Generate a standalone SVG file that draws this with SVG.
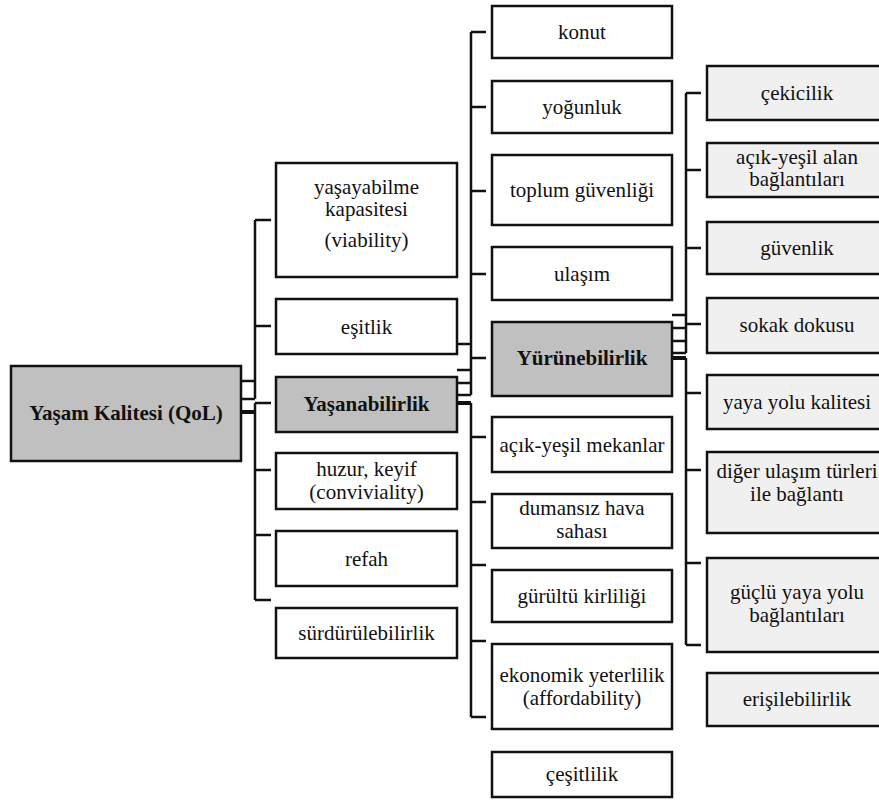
<svg xmlns="http://www.w3.org/2000/svg" width="879" height="800" viewBox="0 0 879 800">
<style>
.b{fill:#ffffff;stroke:#111;stroke-width:2.5}
.g{fill:#c0c0c0;stroke:#111;stroke-width:2.5}
.l{fill:#f0f0f0;stroke:#111;stroke-width:2.5}
text{font-family:'Liberation Serif','Times New Roman',Times,serif;font-size:21px;fill:#111;text-anchor:middle}
.bt{font-weight:bold}
.c{fill:none;stroke:#111;stroke-width:2.5}
.t{fill:none;stroke:#111;stroke-width:4}
</style>
<rect width="879" height="800" fill="#ffffff"/>
<g id="connectors">
<path class="c" d="M241,381H255M241,399H255M255,220V399M255,220H271M255,326H271"/>
<path class="t" d="M241,412H255"/>
<path class="c" d="M255,403V600M255,403H271M255,470H271M255,535H271M255,600H271"/>
<path class="c" d="M471,32V395M471,32H486M471,107H486M471,191H486M471,274H486M471,358H486M457,344H471M457,370H471M457,383H471M457,395H471"/>
<path class="t" d="M457,403H471"/>
<path class="c" d="M471,403V717M471,437H486M471,502H486M471,565H486M471,641H486M471,717H486"/>
<path class="c" d="M686,93V353M686,93H701M686,170H701M686,248H701M686,324H701M672,315H686M672,328H686M672,341H686M672,353H686"/>
<path class="t" d="M672,358H686"/>
<path class="c" d="M686,358V645M686,393H701M686,470H701M686,563H701M686,645H701"/>
</g>
<g font-family="Liberation Serif, Times New Roman, serif">
<g id="qol"><rect class="g" x="11" y="366" width="230" height="95"/><text class="bt" x="126" y="420">Yaşam Kalitesi (QoL)</text></g>
<g id="yasayabilme"><rect class="b" x="276" y="163" width="181" height="114"/><text x="366.5" y="194">yaşayabilme</text><text x="366.5" y="216">kapasitesi</text><text x="366.5" y="247">(viability)</text></g>
<g id="esitlik"><rect class="b" x="276" y="299" width="181" height="55"/><text x="366.5" y="333.5">eşitlik</text></g>
<g id="yasanabilirlik"><rect class="g" x="276" y="377" width="181" height="55"/><text class="bt" x="366.5" y="410.5">Yaşanabilirlik</text></g>
<g id="huzur"><rect class="b" x="276" y="453" width="181" height="56"/><text x="366.5" y="476">huzur, keyif</text><text x="366.5" y="499">(conviviality)</text></g>
<g id="refah"><rect class="b" x="276" y="531" width="181" height="55"/><text x="366.5" y="565.5">refah</text></g>
<g id="surdurulebilirlik"><rect class="b" x="276" y="608" width="181" height="50"/><text x="366.5" y="640">sürdürülebilirlik</text></g>
<g id="konut"><rect class="b" x="492" y="6" width="180" height="52"/><text x="582" y="39">konut</text></g>
<g id="yogunluk"><rect class="b" x="492" y="81" width="180" height="52"/><text x="582" y="114">yoğunluk</text></g>
<g id="toplum"><rect class="b" x="492" y="155" width="180" height="70"/><text x="582" y="197">toplum güvenliği</text></g>
<g id="ulasim"><rect class="b" x="492" y="247" width="180" height="53"/><text x="582" y="281">ulaşım</text></g>
<g id="yurunebilirlik"><rect class="g" x="492" y="322" width="180" height="74"/><text class="bt" x="582" y="364.5">Yürünebilirlik</text></g>
<g id="acikyesilmekanlar"><rect class="b" x="492" y="417" width="180" height="55"/><text x="582" y="451.5">açık-yeşil mekanlar</text></g>
<g id="dumansiz"><rect class="b" x="492" y="494" width="180" height="54"/><text x="582" y="515">dumansız hava</text><text x="582" y="538">sahası</text></g>
<g id="gurultu"><rect class="b" x="492" y="570" width="180" height="52"/><text x="582" y="603">gürültü kirliliği</text></g>
<g id="ekonomik"><rect class="b" x="492" y="644" width="180" height="85"/><text x="582" y="682">ekonomik yeterlilik</text><text x="582" y="705">(affordability)</text></g>
<g id="cesitlilik"><rect class="b" x="492" y="752" width="180" height="45"/><text x="582" y="781">çeşitlilik</text></g>
<g id="cekicilik"><rect class="l" x="707" y="66" width="180" height="54"/><text x="797" y="100">çekicilik</text></g>
<g id="acikyesilalan"><rect class="l" x="707" y="143" width="180" height="54"/><text x="797" y="164">açık-yeşil alan</text><text x="797" y="186">bağlantıları</text></g>
<g id="guvenlik"><rect class="l" x="707" y="222" width="180" height="52"/><text x="797" y="255">güvenlik</text></g>
<g id="sokak"><rect class="l" x="707" y="298" width="180" height="55"/><text x="797" y="332">sokak dokusu</text></g>
<g id="yaya"><rect class="l" x="707" y="375" width="180" height="54"/><text x="797" y="409">yaya yolu kalitesi</text></g>
<g id="diger"><rect class="l" x="707" y="452" width="180" height="81"/><text x="797" y="478">diğer ulaşım türleri</text><text x="797" y="501">ile bağlantı</text></g>
<g id="guclu"><rect class="l" x="707" y="558" width="180" height="94"/><text x="797" y="599">güçlü yaya yolu</text><text x="797" y="622">bağlantıları</text></g>
<g id="erisilebilirlik"><rect class="l" x="707" y="673" width="180" height="53"/><text x="797" y="706">erişilebilirlik</text></g>
</g>
</svg>
